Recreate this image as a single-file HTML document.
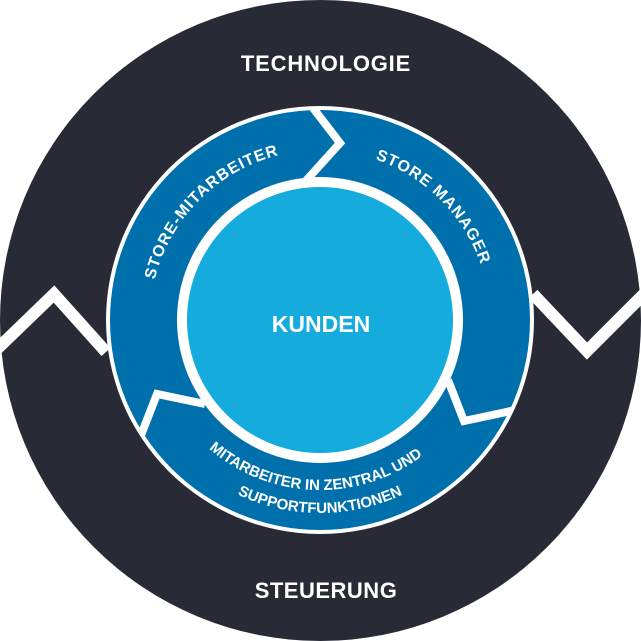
<!DOCTYPE html>
<html><head><meta charset="utf-8"><style>
html,body{margin:0;padding:0;background:#fff;}
svg{display:block;}
text{font-family:"Liberation Sans",sans-serif;font-weight:bold;fill:#fff;}
</style></head><body>
<svg width="641" height="641" viewBox="0 0 641 641" xmlns="http://www.w3.org/2000/svg">
<defs>
<clipPath id="ring"><circle cx="320" cy="320" r="211"/></clipPath>
<path id="pL" d="M 152.6 350.0 A 170 170 0 0 1 349.5 152.6"/>
<path id="pR" d="M 290.5 152.6 A 170 170 0 0 1 487.4 350.0"/>
<path id="pB1" d="M 150 320 A 170 170 0 0 0 490 320"/>
<path id="pB2" d="M 127 320 A 193 193 0 0 0 513 320"/>
</defs>
<circle cx="320.5" cy="320.5" r="320.5" fill="#282a36"/>
<polyline points="-5,351 54,294 106,352" fill="none" stroke="#fff" stroke-width="12"/>
<polyline points="533,294 587,351 646,292" fill="none" stroke="#fff" stroke-width="12"/>
<circle cx="320" cy="320" r="214" fill="#fff"/>
<circle cx="320" cy="320" r="210" fill="#0070ac"/>
<g clip-path="url(#ring)">
<polyline points="303,95 340,143 303,184" fill="none" stroke="#fff" stroke-width="8"/>
<polyline points="136,448 157,394 205,404" fill="none" stroke="#fff" stroke-width="8"/>
<polyline points="448,380 464,421 525,408" fill="none" stroke="#fff" stroke-width="8"/>
</g>
<circle cx="320" cy="320" r="143" fill="#fff"/>
<circle cx="320" cy="320" r="133" fill="#15abdc"/>
<text x="321" y="332" font-size="23" text-anchor="middle">KUNDEN</text>
<text x="326" y="71" font-size="22" letter-spacing="0.8" text-anchor="middle">TECHNOLOGIE</text>
<text x="326" y="598" font-size="22" letter-spacing="0.5" text-anchor="middle">STEUERUNG</text>
<text font-size="16" letter-spacing="1"><textPath href="#pL" startOffset="50%" text-anchor="middle">STORE-MITARBEITER</textPath></text>
<text font-size="16" letter-spacing="1"><textPath href="#pR" startOffset="50%" text-anchor="middle">STORE MANAGER</textPath></text>
<text font-size="15"><textPath href="#pB1" startOffset="49%" text-anchor="middle">MITARBEITER IN ZENTRAL UND</textPath></text>
<text font-size="15"><textPath href="#pB2" startOffset="50%" text-anchor="middle">SUPPORTFUNKTIONEN</textPath></text>
</svg>
</body></html>
